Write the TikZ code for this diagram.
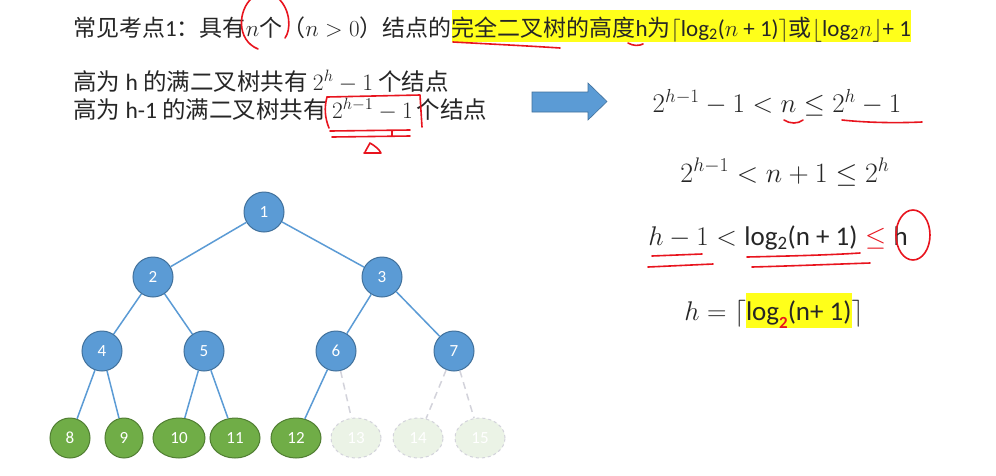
\RequirePackage{fix-cm}
\documentclass[tikz,border=0pt]{standalone}
\usepackage{amsmath}
\usepackage{fontspec}
\setmainfont{Carlito}
\newfontfamily\zhfont{Noto Sans CJK SC}
\newcommand{\zh}[1]{{\zhfont #1}}
\usetikzlibrary{shapes.geometric}
\definecolor{nblue}{HTML}{5B9BD5}
\definecolor{nbluedark}{HTML}{41719C}
\definecolor{ngreen}{HTML}{70AD47}
\definecolor{ngreendark}{HTML}{507E32}
\definecolor{nfade}{HTML}{EBF3E6}
\definecolor{fadeline}{HTML}{D3D3DB}
\definecolor{annred}{RGB}{232,20,30}
\definecolor{txt}{HTML}{262626}
\definecolor{hlyellow}{HTML}{FFFF1A}
\begin{document}
\begin{tikzpicture}[x=1pt,y=-1pt,
  txtline/.style={anchor=base west, inner sep=0pt, text=txt, font=\fontsize{23.5}{28}\selectfont},
  eqn/.style={anchor=base, inner sep=0pt, text=txt, font=\fontsize{27}{32}\selectfont},
  bnode/.style={circle, fill=nblue, draw=nbluedark, line width=1pt, minimum size=40pt, inner sep=0pt, text=white, font=\fontsize{17}{20}\selectfont},
  gnode/.style={ellipse, fill=ngreen, draw=ngreendark, line width=1pt, minimum width=#1, minimum height=40pt, inner sep=0pt, text=white, font=\fontsize{17}{20}\selectfont},
  gnode/.default=50pt,
  fnode/.style={ellipse, fill=nfade, draw=fadeline, dashed, line width=1pt, minimum width=50pt, minimum height=40pt, inner sep=0pt, text=white, font=\fontsize{17}{20}\selectfont},
  edge/.style={draw=nblue, line width=1.5pt},
  dedge/.style={draw=fadeline, line width=1.5pt, dash pattern=on 7pt off 5pt},
  ann/.style={draw=annred, line width=1.6pt, line cap=round, line join=round}
]
\useasboundingbox[fill=white] (0,0) rectangle (996,475);
\setlength{\fboxsep}{0pt}

% ---- text lines ----
\node[txtline, font=\fontsize{23}{28}\selectfont] (l1) at (73,36) {\zh{常见考点}1\zh{：具有}$n$\zh{个（}$n>0$\zh{）结点的}\colorbox{hlyellow}{\rule[-4pt]{0pt}{30pt}\zh{完全二叉树的高度}h\zh{为}$\lceil$log\textsubscript{2}($n$ + 1)$\rceil$\zh{或}$\lfloor$log\textsubscript{2}$n\rfloor$+ 1}};
\node[txtline] (l2) at (73,90) {\zh{高为} h \zh{的满二叉树共有} $2^h-1$ \zh{个结点}};
\node[txtline] (l3) at (73,118) {\zh{高为} h-1 \zh{的满二叉树共有} $2^{h-1}-1$\,\zh{个结点}};

% ---- arrow ----
\path[fill=nblue, draw=nbluedark, line width=0.6pt] (532,92) -- (588,92) -- (588,83) -- (607,101.5) -- (588,120) -- (588,112) -- (532,112) -- cycle;

% ---- equations ----
\node[eqn] (e1) at (777,112) {$2^{h-1}-1<n\leq 2^h-1$};
\node[eqn, font=\fontsize{28}{32}\selectfont] (e2) at (785,182) {$2^{h-1}<n+1\leq 2^h$};
\node[eqn] (e3) at (778,245) {$h-1<{}$log\textsubscript{2}(n + 1)\textcolor{annred}{${}\leq{}$}$\mathrm{h}$};
\node[eqn] (e4) at (774,320) {$h=\lceil$\colorbox{hlyellow}{\rule[-8pt]{0pt}{35pt}log\raisebox{-8pt}{\textcolor{annred}{\bfseries\fontsize{17}{17}\selectfont 2}}(n+ 1)}$\rceil$};

% ---- tree ----
\node[bnode] (n1) at (264,212) {1};
\node[bnode] (n2) at (153,277) {2};
\node[bnode] (n3) at (382,277) {3};
\node[bnode] (n4) at (102,351) {4};
\node[bnode] (n5) at (204,351) {5};
\node[bnode] (n6) at (336,351) {6};
\node[bnode] (n7) at (454,351) {7};
\node[gnode=40pt] (n8) at (70,438) {8};
\node[gnode=38pt] (n9) at (124,438) {9};
\node[gnode=52pt] (n10) at (179,438) {10};
\node[gnode=50pt] (n11) at (235,438) {11};
\node[gnode=50pt] (n12) at (296,438) {12};
\node[fnode] (n13) at (356,438) {13};
\node[fnode] (n14) at (418,438) {14};
\node[fnode] (n15) at (480,438) {15};
\draw[edge] (n1) -- (n2);
\draw[edge] (n1) -- (n3);
\draw[edge] (n2) -- (n4);
\draw[edge] (n2) -- (n5);
\draw[edge] (n3) -- (n6);
\draw[edge] (n3) -- (n7);
\draw[edge] (n4) -- (n8);
\draw[edge] (n4) -- (n9);
\draw[edge] (n5) -- (n10);
\draw[edge] (n5) -- (n11);
\draw[edge] (n6) -- (n12);
\draw[dedge] (n6) -- (n13);
\draw[dedge] (n7) -- (n14);
\draw[dedge] (n7) -- (n15);

% ---- red annotations ----
\draw[ann] (252,-2) .. controls (238,10) and (236,40) .. (258,49);
\draw[ann] (278,-2) .. controls (291,10) and (291,30) .. (285,38);
\draw[ann] (453,42) .. controls (490,44) and (530,46) .. (560,48);
\draw[ann] (628,43) .. controls (633,46) and (639,46) .. (643,44);
\draw[ann] (327,97) -- (420,95) -- (422,127);
\draw[ann] (327,97) .. controls (324,108) and (325,118) .. (329,128);
\draw[ann] (330,131) -- (410,130);
\draw[ann] (332,137) -- (410,136);
\draw[ann] (392,131) -- (392,136);
\draw[ann] (365,152) -- (370,143) .. controls (375,146) and (379,149) .. (381,153) -- (364,153);
\draw[ann] (784,120) .. controls (790,124) and (798,124) .. (803,120);
\draw[ann] (842,120) .. controls (870,123) and (900,123) .. (922,122);
\draw[ann] (652,256) -- (702,254);
\draw[ann] (648,267) -- (713,264);
\draw[ann] (747,257) .. controls (790,256) and (830,255) .. (860,253);
\draw[ann] (752,267) .. controls (790,266) and (840,264) .. (870,263);
\draw[ann] (913,235) ellipse[x radius=17, y radius=25];
\end{tikzpicture}
\end{document}
